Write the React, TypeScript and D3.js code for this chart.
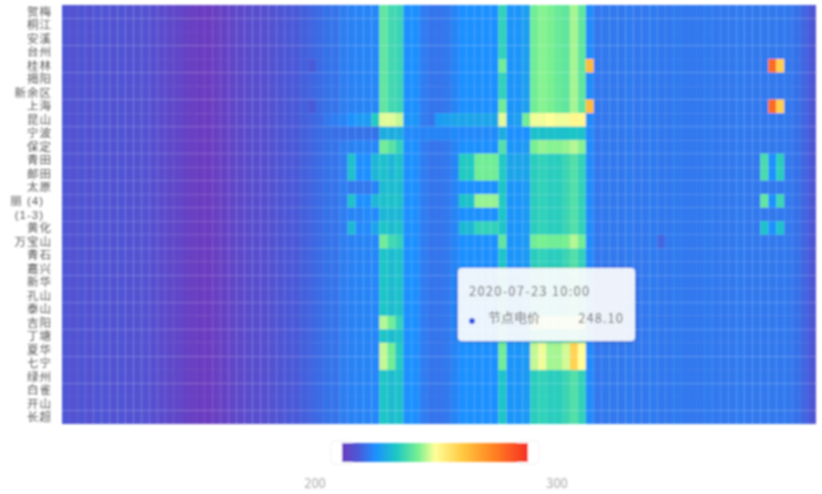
import * as d3 from 'd3';
import React, { useRef, useEffect } from 'react';

const rowNames = [
  '贺梅', '桐江', '安溪', '台州', '桂林', '揭阳', '新余区', '上海', '昆山', '宁波', '保定',
  '青田', '邮田', '太原', '丽 (4)', '(1-3)', '黄化', '万宝山', '青石', '嘉兴', '新华',
  '孔山', '泰山', '吉阳', '丁塘', '夏华', '七宁', '绿州', '白雀', '开山', '长超',
];
const rowLabelShift = [0, 0, 0, 0, 0, 0, 0, 0, 0, 0, 0, 0, 0, 0, -8, -8];

const columns = d3.range(95).map(String);

// per slot price, top eight rows
const upperValues = [
  207.5, 207, 207.5, 207, 207.5, 207.5, 207, 207.5, 207, 207,
  206.5, 206, 205, 204, 203, 202, 201, 200.5, 200.5, 201,
  202, 203, 204, 205, 205.5, 206, 207, 207.5, 208.5, 209,
  210, 211, 212, 213, 213.5, 215, 215.5, 216, 216, 216.5,
  238, 234, 233, 218, 218, 215, 213.5, 213.5, 214, 216,
  218, 218, 218, 218, 218, 232, 219, 219, 221, 240,
  242, 241, 239, 238, 244, 238, 217, 214, 214, 214,
  214, 214.5, 214, 214, 214.5, 214, 214, 214.5, 214, 214,
  214, 214.5, 214, 214, 214, 214.5, 214, 214, 214, 214,
  214, 214, 213, 211, 208,
];

// same slots for the rows below
const lowerValues = [
  207.5, 207, 207.5, 207, 207.5, 207.5, 207, 207.5, 207, 207,
  206.5, 206, 205, 204, 203, 202, 201, 200.5, 200.5, 201,
  202, 203, 204, 205, 205.5, 206, 207, 207.5, 208.5, 209,
  210, 211, 212, 213, 213.5, 215, 215.5, 216, 216, 216.5,
  229, 227, 228, 218, 218, 215, 213.5, 213.5, 214, 216,
  218, 218, 218, 218, 218, 229, 219, 219, 220, 231,
  232, 231, 231, 233, 236, 232, 217, 214, 214, 214,
  214, 214.5, 214, 214, 214.5, 214, 214, 214.5, 214, 214,
  214, 214.5, 214, 214, 214, 214.5, 214, 214, 214, 214,
  214, 214, 213, 211, 208,
];
const upperRowCount = 8;

// rows, first slot, values from that slot on
const overrides: [number[], number, number[]][] = [
  [[4, 7], 31, [209]],
  [[4, 7], 55, [240]],
  [[4, 7], 66, [268]],
  [[4, 7], 89, [287, 263]],
  [[8], 33, [214, 215, 216, 218, 220, 220, 230, 248, 248, 246, 219, 219]],
  [[8], 47, [220, 221, 222, 222, 222, 222, 222, 222, 248, 220, 221, 240]],
  [[8], 59, [249, 249, 250, 249, 249, 252, 252]],
  [[9], 33, [212.5, 212.5, 212.5, 213, 213, 213, 213, 224, 224, 224, 217, 217]],
  [[9], 45, [216, 216, 216, 216, 217, 217, 217, 217, 217, 217, 224, 218, 218, 218]],
  [[9], 59, [228, 228, 228, 228, 228, 229, 228]],
  [[10], 40, [240, 237, 232]],
  [[10], 55, [236]],
  [[10], 59, [241, 243, 242, 242, 243, 245, 242]],
  [[11, 12], 36, [228, 218, 218, 226, 228, 226, 228]],
  [[11, 12], 50, [230, 230, 240, 240, 240, 230, 222, 222, 222]],
  [[11, 12], 88, [235, 218, 231]],
  [[13], 36, [214, 214, 214, 216, 227, 227, 227]],
  [[14], 36, [228, 218, 218, 226, 228, 228, 228]],
  [[14], 50, [228, 228, 243, 243, 243, 230]],
  [[14], 88, [238, 218, 233]],
  [[15], 36, [216, 216, 217, 217, 226, 226, 226]],
  [[16], 36, [226, 217, 217, 222]],
  [[16], 50, [226, 226, 232, 232, 232]],
  [[16], 88, [228, 218, 228]],
  [[17], 40, [240, 234, 232]],
  [[17], 55, [238]],
  [[17], 59, [240, 241, 240, 240, 241, 245, 240]],
  [[17], 75, [211]],
  [[23], 40, [245, 240, 232]],
  [[23], 59, [247, 248, 248, 248, 248, 248, 248]],
  [[25, 26], 40, [246, 240, 230]],
  [[25, 26], 55, [240]],
  [[25, 26], 59, [246, 249, 244, 244, 247, 262, 250]],
];

const colorDomain = [200, 209, 218, 229, 241, 250, 265, 282, 300];
const colorRange = ['#6d3cbf', '#4a5ad8', '#1e90ff', '#1cc6c6', '#78f090', '#ffff99', '#ffc840', '#ff8020', '#f53020'];

const legendLabels = ['200', '300'];
const tooltipTime = '2020-07-23 10:00';
const tooltipName = '节点电价';
const tooltipValue = '248.10';

const labelFont = '"Liberation Sans", "Noto Sans CJK SC", sans-serif';
const fontFamily = '"Noto Sans CJK SC", "Noto Sans", sans-serif';

const App: React.FC = () => {
  const ref = useRef<SVGSVGElement>(null);

  useEffect(() => {
    if (!ref.current) return;
    const svg = d3.select(ref.current);
    svg.selectAll('*').remove();

    const color = d3.scaleLinear<string>().domain(colorDomain).range(colorRange).clamp(true);
    const xScale = d3.scaleBand().domain(columns).range([62, 816]);
    const yScale = d3.scaleBand().domain(rowNames).range([5, 424]);

    const cells = rowNames.map((_, r) => (r < upperRowCount ? upperValues : lowerValues).slice());
    overrides.forEach(([rows, start, values]) => {
      rows.forEach(r => values.forEach((v, i) => { cells[r][start + i] = v; }));
    });

    const defs = svg.append('defs');
    defs.append('filter').attr('id', 'soft')
      .attr('x', '-5%').attr('y', '-5%').attr('width', '110%').attr('height', '110%')
      .append('feGaussianBlur').attr('stdDeviation', 1.1);
    const shadow = defs.append('filter').attr('id', 'shadow')
      .attr('x', '-10%').attr('y', '-15%').attr('width', '120%').attr('height', '130%');
    shadow.append('feDropShadow').attr('dx', 0).attr('dy', 1).attr('stdDeviation', 2.5)
      .attr('flood-color', '#000').attr('flood-opacity', 0.2);
    const gradient = defs.append('linearGradient').attr('id', 'legendFill');
    colorDomain.forEach((v, i) => {
      gradient.append('stop').attr('offset', `${(v - 200)}%`).attr('stop-color', colorRange[i]);
    });

    const root = svg.append('g').attr('filter', 'url(#soft)');

    cells.forEach((row, r) => {
      root.append('g').selectAll('rect')
        .data(row)
        .enter()
        .append('rect')
        .attr('x', (_, i) => xScale(columns[i]) as number)
        .attr('y', yScale(rowNames[r]) as number)
        .attr('width', xScale.bandwidth())
        .attr('height', yScale.bandwidth())
        .attr('fill', d => color(d));
    });

    root.append('g').selectAll('text')
      .data(rowNames)
      .enter()
      .append('text')
      .attr('x', (_, i) => 52 + (rowLabelShift[i] || 0))
      .attr('y', d => (yScale(d) as number) + yScale.bandwidth() / 2)
      .attr('dy', '0.35em')
      .attr('text-anchor', 'end')
      .attr('font-family', labelFont)
      .attr('font-size', 11.5)
      .attr('letter-spacing', 1)
      .attr('fill', '#555')
      .text(d => d);

    // visual map
    const legend = root.append('g');
    const legendX = d3.scaleLinear().domain([200, 300]).range([342, 528]);
    legend.selectAll('.handle')
      .data([200, 300])
      .enter()
      .append('rect')
      .classed('handle', true)
      .attr('x', d => legendX(d) - 11)
      .attr('y', 441)
      .attr('width', 22)
      .attr('height', 23)
      .attr('rx', 4)
      .attr('fill', '#fff')
      .attr('stroke', '#f0f0f0');
    legend.append('rect')
      .attr('x', legendX(200))
      .attr('y', 443)
      .attr('width', legendX(300) - legendX(200))
      .attr('height', 19)
      .attr('fill', 'url(#legendFill)');
    legend.selectAll('text')
      .data(legendLabels)
      .enter()
      .append('text')
      .attr('x', (_, i) => (i === 0 ? 315 : 557))
      .attr('y', 488)
      .attr('text-anchor', 'middle')
      .attr('font-family', fontFamily)
      .attr('font-size', 13)
      .attr('fill', '#aaa')
      .text(d => d);

    // tooltip
    const tip = root.append('g').attr('transform', 'translate(458,268)');
    tip.append('rect')
      .attr('width', 177)
      .attr('height', 73)
      .attr('rx', 4)
      .attr('fill', 'rgba(255,255,255,0.9)')
      .attr('filter', 'url(#shadow)');
    tip.append('text').attr('x', 11).attr('y', 28)
      .attr('font-family', fontFamily).attr('font-size', 13).attr('letter-spacing', 1.2).attr('fill', '#666')
      .text(tooltipTime);
    tip.append('circle').attr('cx', 14).attr('cy', 53).attr('r', 3).attr('fill', '#2450e0');
    tip.append('text').attr('x', 30).attr('y', 54)
      .attr('font-family', fontFamily).attr('font-size', 13).attr('fill', '#666')
      .text(tooltipName);
    tip.append('text').attr('x', 166).attr('y', 55).attr('text-anchor', 'end')
      .attr('font-family', fontFamily).attr('font-size', 13).attr('letter-spacing', 1).attr('fill', '#666')
      .text(tooltipValue);
  }, []);

  return (
    <svg ref={ref} width={822} height={494}
      style={{ position: 'absolute', left: 0, top: 0, display: 'block' }} />
  );
};

export default App;
